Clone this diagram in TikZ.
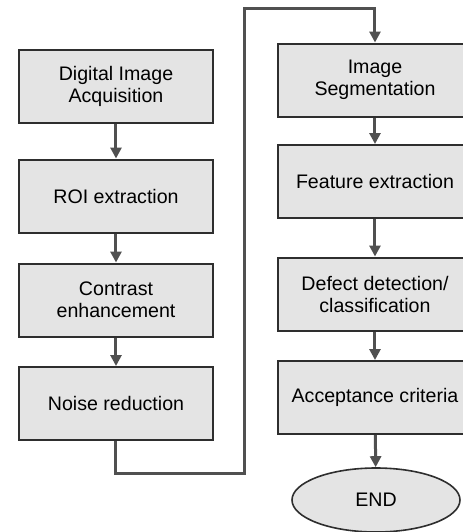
\documentclass[tikz,border=0pt]{standalone}
\usepackage{fontspec}
\setmainfont{Liberation Sans}
\usepackage{tikz}
\usetikzlibrary{arrows.meta, shapes.geometric}

\definecolor{boxfill}{HTML}{E4E4E4}
\definecolor{boxline}{HTML}{2E2E2E}
\definecolor{flowline}{HTML}{505050}

\tikzset{
	box/.style={rectangle, draw=boxline, fill=boxfill, line width=1pt,
		minimum width=97pt, minimum height=36.5pt, align=center,
		font=\fontsize{9.8}{11}\selectfont},
	term/.style={ellipse, draw=boxline, fill=boxfill, line width=0.8pt,
		minimum width=84pt, minimum height=32pt,
		font=\fontsize{9.8}{11}\selectfont},
	flow/.style={draw=flowline, line width=1.5pt,
		-{Triangle[length=5.5pt,width=5.5pt]}}
}

\begin{document}
\begin{tikzpicture}[x=0.5pt, y=-0.5pt]
	\useasboundingbox[fill=white] (0,0) rectangle (463,532);
	\clip (0,0) rectangle (463,532);

	\node[box] (acq) at (116, 86.5) {Digital Image\\Acquisition};
	\node[box] (roi) at (116, 196) {ROI extraction};
	\node[box] (con) at (116, 300) {Contrast\\enhancement};
	\node[box] (noi) at (116, 403.5) {Noise reduction};

	\node[box] (seg) at (375, 80) {Image\\Segmentation};
	\node[box] (fea) at (375, 181.5) {Feature extraction};
	\node[box] (def) at (375, 294) {Defect detection/\\classification};
	\node[box] (acc) at (375, 397.5) {Acceptance criteria};
	\node[term] (end) at (376, 500) {END};

	\coordinate (lo) at (245, 473);
	\coordinate (hi) at (245, 8);

	\path[flow] (acq) -- (roi);
	\path[flow] (roi) -- (con);
	\path[flow] (con) -- (noi);

	% jump from the left column over to the right one
	\path[flow] (noi.south) |- (lo) -- (hi) -| (seg.north);

	\path[flow] (seg) -- (fea);
	\path[flow] (fea) -- (def);
	\path[flow] (def) -- (acc);
	\path[flow] (acc) -- (end);
\end{tikzpicture}
\end{document}
